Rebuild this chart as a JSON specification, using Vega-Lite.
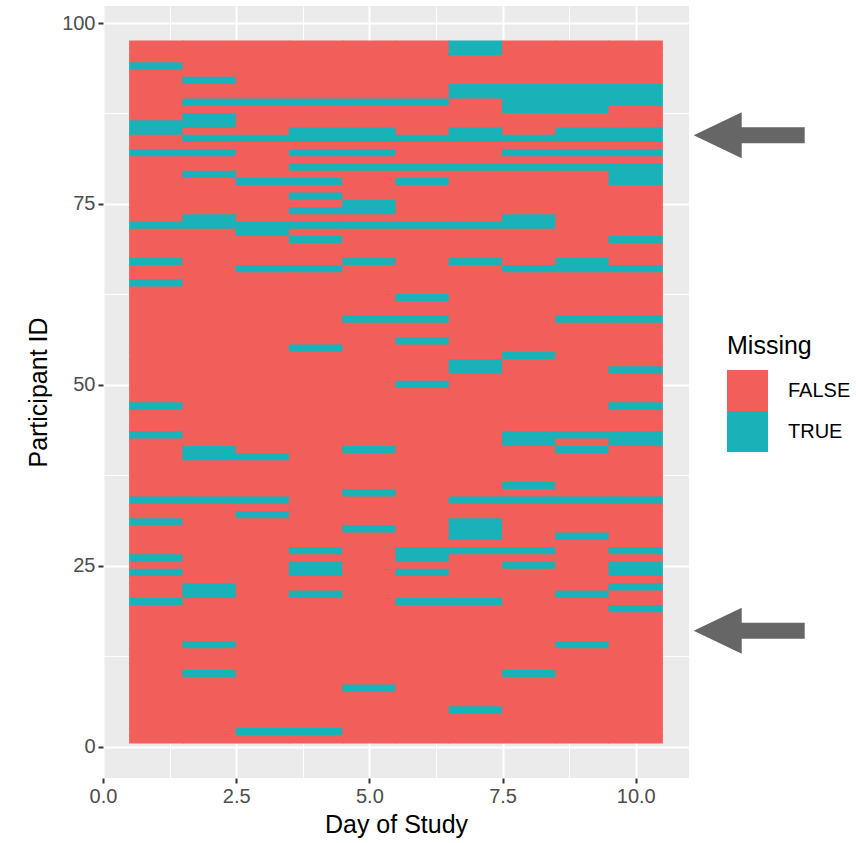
{
"$schema":"https://vega.github.io/schema/vega-lite/v6.json",
"autosize":{"type":"none"},
"padding":{"left":103,"top":6,"right":167,"bottom":65},
"width":586,
"height":772,
"background":"white",
"config":{
 "font":"Liberation Sans",
 "view":{"fill":"#EBEBEB","stroke":null},
 "axis":{"domain":false,"gridColor":"white","tickColor":"#333333","tickSize":5,"tickWidth":2,"labelColor":"#4D4D4D","labelFontSize":20,"labelFont":"Liberation Sans","titleFont":"Liberation Sans","titleFontSize":25,"titleFontWeight":"normal","titleColor":"black","labelOverlap":false,"labelFlush":false,"labelBound":false}
},
"layer":[
{
 "data":{"values":[
{"id":97,"day":1,"missing":"FALSE"},{"id":97,"day":2,"missing":"FALSE"},{"id":97,"day":3,"missing":"FALSE"},{"id":97,"day":4,"missing":"FALSE"},{"id":97,"day":5,"missing":"FALSE"},{"id":97,"day":6,"missing":"FALSE"},{"id":97,"day":7,"missing":"TRUE"},{"id":97,"day":8,"missing":"FALSE"},{"id":97,"day":9,"missing":"FALSE"},{"id":97,"day":10,"missing":"FALSE"},
{"id":96,"day":1,"missing":"FALSE"},{"id":96,"day":2,"missing":"FALSE"},{"id":96,"day":3,"missing":"FALSE"},{"id":96,"day":4,"missing":"FALSE"},{"id":96,"day":5,"missing":"FALSE"},{"id":96,"day":6,"missing":"FALSE"},{"id":96,"day":7,"missing":"TRUE"},{"id":96,"day":8,"missing":"FALSE"},{"id":96,"day":9,"missing":"FALSE"},{"id":96,"day":10,"missing":"FALSE"},
{"id":95,"day":1,"missing":"FALSE"},{"id":95,"day":2,"missing":"FALSE"},{"id":95,"day":3,"missing":"FALSE"},{"id":95,"day":4,"missing":"FALSE"},{"id":95,"day":5,"missing":"FALSE"},{"id":95,"day":6,"missing":"FALSE"},{"id":95,"day":7,"missing":"FALSE"},{"id":95,"day":8,"missing":"FALSE"},{"id":95,"day":9,"missing":"FALSE"},{"id":95,"day":10,"missing":"FALSE"},
{"id":94,"day":1,"missing":"TRUE"},{"id":94,"day":2,"missing":"FALSE"},{"id":94,"day":3,"missing":"FALSE"},{"id":94,"day":4,"missing":"FALSE"},{"id":94,"day":5,"missing":"FALSE"},{"id":94,"day":6,"missing":"FALSE"},{"id":94,"day":7,"missing":"FALSE"},{"id":94,"day":8,"missing":"FALSE"},{"id":94,"day":9,"missing":"FALSE"},{"id":94,"day":10,"missing":"FALSE"},
{"id":93,"day":1,"missing":"FALSE"},{"id":93,"day":2,"missing":"FALSE"},{"id":93,"day":3,"missing":"FALSE"},{"id":93,"day":4,"missing":"FALSE"},{"id":93,"day":5,"missing":"FALSE"},{"id":93,"day":6,"missing":"FALSE"},{"id":93,"day":7,"missing":"FALSE"},{"id":93,"day":8,"missing":"FALSE"},{"id":93,"day":9,"missing":"FALSE"},{"id":93,"day":10,"missing":"FALSE"},
{"id":92,"day":1,"missing":"FALSE"},{"id":92,"day":2,"missing":"TRUE"},{"id":92,"day":3,"missing":"FALSE"},{"id":92,"day":4,"missing":"FALSE"},{"id":92,"day":5,"missing":"FALSE"},{"id":92,"day":6,"missing":"FALSE"},{"id":92,"day":7,"missing":"FALSE"},{"id":92,"day":8,"missing":"FALSE"},{"id":92,"day":9,"missing":"FALSE"},{"id":92,"day":10,"missing":"FALSE"},
{"id":91,"day":1,"missing":"FALSE"},{"id":91,"day":2,"missing":"FALSE"},{"id":91,"day":3,"missing":"FALSE"},{"id":91,"day":4,"missing":"FALSE"},{"id":91,"day":5,"missing":"FALSE"},{"id":91,"day":6,"missing":"FALSE"},{"id":91,"day":7,"missing":"TRUE"},{"id":91,"day":8,"missing":"TRUE"},{"id":91,"day":9,"missing":"TRUE"},{"id":91,"day":10,"missing":"TRUE"},
{"id":90,"day":1,"missing":"FALSE"},{"id":90,"day":2,"missing":"FALSE"},{"id":90,"day":3,"missing":"FALSE"},{"id":90,"day":4,"missing":"FALSE"},{"id":90,"day":5,"missing":"FALSE"},{"id":90,"day":6,"missing":"FALSE"},{"id":90,"day":7,"missing":"TRUE"},{"id":90,"day":8,"missing":"TRUE"},{"id":90,"day":9,"missing":"TRUE"},{"id":90,"day":10,"missing":"TRUE"},
{"id":89,"day":1,"missing":"FALSE"},{"id":89,"day":2,"missing":"TRUE"},{"id":89,"day":3,"missing":"TRUE"},{"id":89,"day":4,"missing":"TRUE"},{"id":89,"day":5,"missing":"TRUE"},{"id":89,"day":6,"missing":"TRUE"},{"id":89,"day":7,"missing":"FALSE"},{"id":89,"day":8,"missing":"TRUE"},{"id":89,"day":9,"missing":"TRUE"},{"id":89,"day":10,"missing":"TRUE"},
{"id":88,"day":1,"missing":"FALSE"},{"id":88,"day":2,"missing":"FALSE"},{"id":88,"day":3,"missing":"FALSE"},{"id":88,"day":4,"missing":"FALSE"},{"id":88,"day":5,"missing":"FALSE"},{"id":88,"day":6,"missing":"FALSE"},{"id":88,"day":7,"missing":"FALSE"},{"id":88,"day":8,"missing":"TRUE"},{"id":88,"day":9,"missing":"TRUE"},{"id":88,"day":10,"missing":"FALSE"},
{"id":87,"day":1,"missing":"FALSE"},{"id":87,"day":2,"missing":"TRUE"},{"id":87,"day":3,"missing":"FALSE"},{"id":87,"day":4,"missing":"FALSE"},{"id":87,"day":5,"missing":"FALSE"},{"id":87,"day":6,"missing":"FALSE"},{"id":87,"day":7,"missing":"FALSE"},{"id":87,"day":8,"missing":"FALSE"},{"id":87,"day":9,"missing":"FALSE"},{"id":87,"day":10,"missing":"FALSE"},
{"id":86,"day":1,"missing":"TRUE"},{"id":86,"day":2,"missing":"TRUE"},{"id":86,"day":3,"missing":"FALSE"},{"id":86,"day":4,"missing":"FALSE"},{"id":86,"day":5,"missing":"FALSE"},{"id":86,"day":6,"missing":"FALSE"},{"id":86,"day":7,"missing":"FALSE"},{"id":86,"day":8,"missing":"FALSE"},{"id":86,"day":9,"missing":"FALSE"},{"id":86,"day":10,"missing":"FALSE"},
{"id":85,"day":1,"missing":"TRUE"},{"id":85,"day":2,"missing":"FALSE"},{"id":85,"day":3,"missing":"FALSE"},{"id":85,"day":4,"missing":"TRUE"},{"id":85,"day":5,"missing":"TRUE"},{"id":85,"day":6,"missing":"FALSE"},{"id":85,"day":7,"missing":"TRUE"},{"id":85,"day":8,"missing":"FALSE"},{"id":85,"day":9,"missing":"TRUE"},{"id":85,"day":10,"missing":"TRUE"},
{"id":84,"day":1,"missing":"FALSE"},{"id":84,"day":2,"missing":"TRUE"},{"id":84,"day":3,"missing":"TRUE"},{"id":84,"day":4,"missing":"TRUE"},{"id":84,"day":5,"missing":"TRUE"},{"id":84,"day":6,"missing":"TRUE"},{"id":84,"day":7,"missing":"TRUE"},{"id":84,"day":8,"missing":"TRUE"},{"id":84,"day":9,"missing":"TRUE"},{"id":84,"day":10,"missing":"TRUE"},
{"id":83,"day":1,"missing":"FALSE"},{"id":83,"day":2,"missing":"FALSE"},{"id":83,"day":3,"missing":"FALSE"},{"id":83,"day":4,"missing":"FALSE"},{"id":83,"day":5,"missing":"FALSE"},{"id":83,"day":6,"missing":"FALSE"},{"id":83,"day":7,"missing":"FALSE"},{"id":83,"day":8,"missing":"FALSE"},{"id":83,"day":9,"missing":"FALSE"},{"id":83,"day":10,"missing":"FALSE"},
{"id":82,"day":1,"missing":"TRUE"},{"id":82,"day":2,"missing":"TRUE"},{"id":82,"day":3,"missing":"FALSE"},{"id":82,"day":4,"missing":"TRUE"},{"id":82,"day":5,"missing":"TRUE"},{"id":82,"day":6,"missing":"FALSE"},{"id":82,"day":7,"missing":"FALSE"},{"id":82,"day":8,"missing":"TRUE"},{"id":82,"day":9,"missing":"TRUE"},{"id":82,"day":10,"missing":"TRUE"},
{"id":81,"day":1,"missing":"FALSE"},{"id":81,"day":2,"missing":"FALSE"},{"id":81,"day":3,"missing":"FALSE"},{"id":81,"day":4,"missing":"FALSE"},{"id":81,"day":5,"missing":"FALSE"},{"id":81,"day":6,"missing":"FALSE"},{"id":81,"day":7,"missing":"FALSE"},{"id":81,"day":8,"missing":"FALSE"},{"id":81,"day":9,"missing":"FALSE"},{"id":81,"day":10,"missing":"FALSE"},
{"id":80,"day":1,"missing":"FALSE"},{"id":80,"day":2,"missing":"FALSE"},{"id":80,"day":3,"missing":"FALSE"},{"id":80,"day":4,"missing":"TRUE"},{"id":80,"day":5,"missing":"TRUE"},{"id":80,"day":6,"missing":"TRUE"},{"id":80,"day":7,"missing":"TRUE"},{"id":80,"day":8,"missing":"TRUE"},{"id":80,"day":9,"missing":"TRUE"},{"id":80,"day":10,"missing":"TRUE"},
{"id":79,"day":1,"missing":"FALSE"},{"id":79,"day":2,"missing":"TRUE"},{"id":79,"day":3,"missing":"FALSE"},{"id":79,"day":4,"missing":"FALSE"},{"id":79,"day":5,"missing":"FALSE"},{"id":79,"day":6,"missing":"FALSE"},{"id":79,"day":7,"missing":"FALSE"},{"id":79,"day":8,"missing":"FALSE"},{"id":79,"day":9,"missing":"FALSE"},{"id":79,"day":10,"missing":"TRUE"},
{"id":78,"day":1,"missing":"FALSE"},{"id":78,"day":2,"missing":"FALSE"},{"id":78,"day":3,"missing":"TRUE"},{"id":78,"day":4,"missing":"TRUE"},{"id":78,"day":5,"missing":"FALSE"},{"id":78,"day":6,"missing":"TRUE"},{"id":78,"day":7,"missing":"FALSE"},{"id":78,"day":8,"missing":"FALSE"},{"id":78,"day":9,"missing":"FALSE"},{"id":78,"day":10,"missing":"TRUE"},
{"id":77,"day":1,"missing":"FALSE"},{"id":77,"day":2,"missing":"FALSE"},{"id":77,"day":3,"missing":"FALSE"},{"id":77,"day":4,"missing":"FALSE"},{"id":77,"day":5,"missing":"FALSE"},{"id":77,"day":6,"missing":"FALSE"},{"id":77,"day":7,"missing":"FALSE"},{"id":77,"day":8,"missing":"FALSE"},{"id":77,"day":9,"missing":"FALSE"},{"id":77,"day":10,"missing":"FALSE"},
{"id":76,"day":1,"missing":"FALSE"},{"id":76,"day":2,"missing":"FALSE"},{"id":76,"day":3,"missing":"FALSE"},{"id":76,"day":4,"missing":"TRUE"},{"id":76,"day":5,"missing":"FALSE"},{"id":76,"day":6,"missing":"FALSE"},{"id":76,"day":7,"missing":"FALSE"},{"id":76,"day":8,"missing":"FALSE"},{"id":76,"day":9,"missing":"FALSE"},{"id":76,"day":10,"missing":"FALSE"},
{"id":75,"day":1,"missing":"FALSE"},{"id":75,"day":2,"missing":"FALSE"},{"id":75,"day":3,"missing":"FALSE"},{"id":75,"day":4,"missing":"FALSE"},{"id":75,"day":5,"missing":"TRUE"},{"id":75,"day":6,"missing":"FALSE"},{"id":75,"day":7,"missing":"FALSE"},{"id":75,"day":8,"missing":"FALSE"},{"id":75,"day":9,"missing":"FALSE"},{"id":75,"day":10,"missing":"FALSE"},
{"id":74,"day":1,"missing":"FALSE"},{"id":74,"day":2,"missing":"FALSE"},{"id":74,"day":3,"missing":"FALSE"},{"id":74,"day":4,"missing":"TRUE"},{"id":74,"day":5,"missing":"TRUE"},{"id":74,"day":6,"missing":"FALSE"},{"id":74,"day":7,"missing":"FALSE"},{"id":74,"day":8,"missing":"FALSE"},{"id":74,"day":9,"missing":"FALSE"},{"id":74,"day":10,"missing":"FALSE"},
{"id":73,"day":1,"missing":"FALSE"},{"id":73,"day":2,"missing":"TRUE"},{"id":73,"day":3,"missing":"FALSE"},{"id":73,"day":4,"missing":"FALSE"},{"id":73,"day":5,"missing":"FALSE"},{"id":73,"day":6,"missing":"FALSE"},{"id":73,"day":7,"missing":"FALSE"},{"id":73,"day":8,"missing":"TRUE"},{"id":73,"day":9,"missing":"FALSE"},{"id":73,"day":10,"missing":"FALSE"},
{"id":72,"day":1,"missing":"TRUE"},{"id":72,"day":2,"missing":"TRUE"},{"id":72,"day":3,"missing":"TRUE"},{"id":72,"day":4,"missing":"TRUE"},{"id":72,"day":5,"missing":"TRUE"},{"id":72,"day":6,"missing":"TRUE"},{"id":72,"day":7,"missing":"TRUE"},{"id":72,"day":8,"missing":"TRUE"},{"id":72,"day":9,"missing":"FALSE"},{"id":72,"day":10,"missing":"FALSE"},
{"id":71,"day":1,"missing":"FALSE"},{"id":71,"day":2,"missing":"FALSE"},{"id":71,"day":3,"missing":"TRUE"},{"id":71,"day":4,"missing":"FALSE"},{"id":71,"day":5,"missing":"FALSE"},{"id":71,"day":6,"missing":"FALSE"},{"id":71,"day":7,"missing":"FALSE"},{"id":71,"day":8,"missing":"FALSE"},{"id":71,"day":9,"missing":"FALSE"},{"id":71,"day":10,"missing":"FALSE"},
{"id":70,"day":1,"missing":"FALSE"},{"id":70,"day":2,"missing":"FALSE"},{"id":70,"day":3,"missing":"FALSE"},{"id":70,"day":4,"missing":"TRUE"},{"id":70,"day":5,"missing":"FALSE"},{"id":70,"day":6,"missing":"FALSE"},{"id":70,"day":7,"missing":"FALSE"},{"id":70,"day":8,"missing":"FALSE"},{"id":70,"day":9,"missing":"FALSE"},{"id":70,"day":10,"missing":"TRUE"},
{"id":69,"day":1,"missing":"FALSE"},{"id":69,"day":2,"missing":"FALSE"},{"id":69,"day":3,"missing":"FALSE"},{"id":69,"day":4,"missing":"FALSE"},{"id":69,"day":5,"missing":"FALSE"},{"id":69,"day":6,"missing":"FALSE"},{"id":69,"day":7,"missing":"FALSE"},{"id":69,"day":8,"missing":"FALSE"},{"id":69,"day":9,"missing":"FALSE"},{"id":69,"day":10,"missing":"FALSE"},
{"id":68,"day":1,"missing":"FALSE"},{"id":68,"day":2,"missing":"FALSE"},{"id":68,"day":3,"missing":"FALSE"},{"id":68,"day":4,"missing":"FALSE"},{"id":68,"day":5,"missing":"FALSE"},{"id":68,"day":6,"missing":"FALSE"},{"id":68,"day":7,"missing":"FALSE"},{"id":68,"day":8,"missing":"FALSE"},{"id":68,"day":9,"missing":"FALSE"},{"id":68,"day":10,"missing":"FALSE"},
{"id":67,"day":1,"missing":"TRUE"},{"id":67,"day":2,"missing":"FALSE"},{"id":67,"day":3,"missing":"FALSE"},{"id":67,"day":4,"missing":"FALSE"},{"id":67,"day":5,"missing":"TRUE"},{"id":67,"day":6,"missing":"FALSE"},{"id":67,"day":7,"missing":"TRUE"},{"id":67,"day":8,"missing":"FALSE"},{"id":67,"day":9,"missing":"TRUE"},{"id":67,"day":10,"missing":"FALSE"},
{"id":66,"day":1,"missing":"FALSE"},{"id":66,"day":2,"missing":"FALSE"},{"id":66,"day":3,"missing":"TRUE"},{"id":66,"day":4,"missing":"TRUE"},{"id":66,"day":5,"missing":"FALSE"},{"id":66,"day":6,"missing":"FALSE"},{"id":66,"day":7,"missing":"FALSE"},{"id":66,"day":8,"missing":"TRUE"},{"id":66,"day":9,"missing":"TRUE"},{"id":66,"day":10,"missing":"TRUE"},
{"id":65,"day":1,"missing":"FALSE"},{"id":65,"day":2,"missing":"FALSE"},{"id":65,"day":3,"missing":"FALSE"},{"id":65,"day":4,"missing":"FALSE"},{"id":65,"day":5,"missing":"FALSE"},{"id":65,"day":6,"missing":"FALSE"},{"id":65,"day":7,"missing":"FALSE"},{"id":65,"day":8,"missing":"FALSE"},{"id":65,"day":9,"missing":"FALSE"},{"id":65,"day":10,"missing":"FALSE"},
{"id":64,"day":1,"missing":"TRUE"},{"id":64,"day":2,"missing":"FALSE"},{"id":64,"day":3,"missing":"FALSE"},{"id":64,"day":4,"missing":"FALSE"},{"id":64,"day":5,"missing":"FALSE"},{"id":64,"day":6,"missing":"FALSE"},{"id":64,"day":7,"missing":"FALSE"},{"id":64,"day":8,"missing":"FALSE"},{"id":64,"day":9,"missing":"FALSE"},{"id":64,"day":10,"missing":"FALSE"},
{"id":63,"day":1,"missing":"FALSE"},{"id":63,"day":2,"missing":"FALSE"},{"id":63,"day":3,"missing":"FALSE"},{"id":63,"day":4,"missing":"FALSE"},{"id":63,"day":5,"missing":"FALSE"},{"id":63,"day":6,"missing":"FALSE"},{"id":63,"day":7,"missing":"FALSE"},{"id":63,"day":8,"missing":"FALSE"},{"id":63,"day":9,"missing":"FALSE"},{"id":63,"day":10,"missing":"FALSE"},
{"id":62,"day":1,"missing":"FALSE"},{"id":62,"day":2,"missing":"FALSE"},{"id":62,"day":3,"missing":"FALSE"},{"id":62,"day":4,"missing":"FALSE"},{"id":62,"day":5,"missing":"FALSE"},{"id":62,"day":6,"missing":"TRUE"},{"id":62,"day":7,"missing":"FALSE"},{"id":62,"day":8,"missing":"FALSE"},{"id":62,"day":9,"missing":"FALSE"},{"id":62,"day":10,"missing":"FALSE"},
{"id":61,"day":1,"missing":"FALSE"},{"id":61,"day":2,"missing":"FALSE"},{"id":61,"day":3,"missing":"FALSE"},{"id":61,"day":4,"missing":"FALSE"},{"id":61,"day":5,"missing":"FALSE"},{"id":61,"day":6,"missing":"FALSE"},{"id":61,"day":7,"missing":"FALSE"},{"id":61,"day":8,"missing":"FALSE"},{"id":61,"day":9,"missing":"FALSE"},{"id":61,"day":10,"missing":"FALSE"},
{"id":60,"day":1,"missing":"FALSE"},{"id":60,"day":2,"missing":"FALSE"},{"id":60,"day":3,"missing":"FALSE"},{"id":60,"day":4,"missing":"FALSE"},{"id":60,"day":5,"missing":"FALSE"},{"id":60,"day":6,"missing":"FALSE"},{"id":60,"day":7,"missing":"FALSE"},{"id":60,"day":8,"missing":"FALSE"},{"id":60,"day":9,"missing":"FALSE"},{"id":60,"day":10,"missing":"FALSE"},
{"id":59,"day":1,"missing":"FALSE"},{"id":59,"day":2,"missing":"FALSE"},{"id":59,"day":3,"missing":"FALSE"},{"id":59,"day":4,"missing":"FALSE"},{"id":59,"day":5,"missing":"TRUE"},{"id":59,"day":6,"missing":"TRUE"},{"id":59,"day":7,"missing":"FALSE"},{"id":59,"day":8,"missing":"FALSE"},{"id":59,"day":9,"missing":"TRUE"},{"id":59,"day":10,"missing":"TRUE"},
{"id":58,"day":1,"missing":"FALSE"},{"id":58,"day":2,"missing":"FALSE"},{"id":58,"day":3,"missing":"FALSE"},{"id":58,"day":4,"missing":"FALSE"},{"id":58,"day":5,"missing":"FALSE"},{"id":58,"day":6,"missing":"FALSE"},{"id":58,"day":7,"missing":"FALSE"},{"id":58,"day":8,"missing":"FALSE"},{"id":58,"day":9,"missing":"FALSE"},{"id":58,"day":10,"missing":"FALSE"},
{"id":57,"day":1,"missing":"FALSE"},{"id":57,"day":2,"missing":"FALSE"},{"id":57,"day":3,"missing":"FALSE"},{"id":57,"day":4,"missing":"FALSE"},{"id":57,"day":5,"missing":"FALSE"},{"id":57,"day":6,"missing":"FALSE"},{"id":57,"day":7,"missing":"FALSE"},{"id":57,"day":8,"missing":"FALSE"},{"id":57,"day":9,"missing":"FALSE"},{"id":57,"day":10,"missing":"FALSE"},
{"id":56,"day":1,"missing":"FALSE"},{"id":56,"day":2,"missing":"FALSE"},{"id":56,"day":3,"missing":"FALSE"},{"id":56,"day":4,"missing":"FALSE"},{"id":56,"day":5,"missing":"FALSE"},{"id":56,"day":6,"missing":"TRUE"},{"id":56,"day":7,"missing":"FALSE"},{"id":56,"day":8,"missing":"FALSE"},{"id":56,"day":9,"missing":"FALSE"},{"id":56,"day":10,"missing":"FALSE"},
{"id":55,"day":1,"missing":"FALSE"},{"id":55,"day":2,"missing":"FALSE"},{"id":55,"day":3,"missing":"FALSE"},{"id":55,"day":4,"missing":"TRUE"},{"id":55,"day":5,"missing":"FALSE"},{"id":55,"day":6,"missing":"FALSE"},{"id":55,"day":7,"missing":"FALSE"},{"id":55,"day":8,"missing":"FALSE"},{"id":55,"day":9,"missing":"FALSE"},{"id":55,"day":10,"missing":"FALSE"},
{"id":54,"day":1,"missing":"FALSE"},{"id":54,"day":2,"missing":"FALSE"},{"id":54,"day":3,"missing":"FALSE"},{"id":54,"day":4,"missing":"FALSE"},{"id":54,"day":5,"missing":"FALSE"},{"id":54,"day":6,"missing":"FALSE"},{"id":54,"day":7,"missing":"FALSE"},{"id":54,"day":8,"missing":"TRUE"},{"id":54,"day":9,"missing":"FALSE"},{"id":54,"day":10,"missing":"FALSE"},
{"id":53,"day":1,"missing":"FALSE"},{"id":53,"day":2,"missing":"FALSE"},{"id":53,"day":3,"missing":"FALSE"},{"id":53,"day":4,"missing":"FALSE"},{"id":53,"day":5,"missing":"FALSE"},{"id":53,"day":6,"missing":"FALSE"},{"id":53,"day":7,"missing":"TRUE"},{"id":53,"day":8,"missing":"FALSE"},{"id":53,"day":9,"missing":"FALSE"},{"id":53,"day":10,"missing":"FALSE"},
{"id":52,"day":1,"missing":"FALSE"},{"id":52,"day":2,"missing":"FALSE"},{"id":52,"day":3,"missing":"FALSE"},{"id":52,"day":4,"missing":"FALSE"},{"id":52,"day":5,"missing":"FALSE"},{"id":52,"day":6,"missing":"FALSE"},{"id":52,"day":7,"missing":"TRUE"},{"id":52,"day":8,"missing":"FALSE"},{"id":52,"day":9,"missing":"FALSE"},{"id":52,"day":10,"missing":"TRUE"},
{"id":51,"day":1,"missing":"FALSE"},{"id":51,"day":2,"missing":"FALSE"},{"id":51,"day":3,"missing":"FALSE"},{"id":51,"day":4,"missing":"FALSE"},{"id":51,"day":5,"missing":"FALSE"},{"id":51,"day":6,"missing":"FALSE"},{"id":51,"day":7,"missing":"FALSE"},{"id":51,"day":8,"missing":"FALSE"},{"id":51,"day":9,"missing":"FALSE"},{"id":51,"day":10,"missing":"FALSE"},
{"id":50,"day":1,"missing":"FALSE"},{"id":50,"day":2,"missing":"FALSE"},{"id":50,"day":3,"missing":"FALSE"},{"id":50,"day":4,"missing":"FALSE"},{"id":50,"day":5,"missing":"FALSE"},{"id":50,"day":6,"missing":"TRUE"},{"id":50,"day":7,"missing":"FALSE"},{"id":50,"day":8,"missing":"FALSE"},{"id":50,"day":9,"missing":"FALSE"},{"id":50,"day":10,"missing":"FALSE"},
{"id":49,"day":1,"missing":"FALSE"},{"id":49,"day":2,"missing":"FALSE"},{"id":49,"day":3,"missing":"FALSE"},{"id":49,"day":4,"missing":"FALSE"},{"id":49,"day":5,"missing":"FALSE"},{"id":49,"day":6,"missing":"FALSE"},{"id":49,"day":7,"missing":"FALSE"},{"id":49,"day":8,"missing":"FALSE"},{"id":49,"day":9,"missing":"FALSE"},{"id":49,"day":10,"missing":"FALSE"},
{"id":48,"day":1,"missing":"FALSE"},{"id":48,"day":2,"missing":"FALSE"},{"id":48,"day":3,"missing":"FALSE"},{"id":48,"day":4,"missing":"FALSE"},{"id":48,"day":5,"missing":"FALSE"},{"id":48,"day":6,"missing":"FALSE"},{"id":48,"day":7,"missing":"FALSE"},{"id":48,"day":8,"missing":"FALSE"},{"id":48,"day":9,"missing":"FALSE"},{"id":48,"day":10,"missing":"FALSE"},
{"id":47,"day":1,"missing":"TRUE"},{"id":47,"day":2,"missing":"FALSE"},{"id":47,"day":3,"missing":"FALSE"},{"id":47,"day":4,"missing":"FALSE"},{"id":47,"day":5,"missing":"FALSE"},{"id":47,"day":6,"missing":"FALSE"},{"id":47,"day":7,"missing":"FALSE"},{"id":47,"day":8,"missing":"FALSE"},{"id":47,"day":9,"missing":"FALSE"},{"id":47,"day":10,"missing":"TRUE"},
{"id":46,"day":1,"missing":"FALSE"},{"id":46,"day":2,"missing":"FALSE"},{"id":46,"day":3,"missing":"FALSE"},{"id":46,"day":4,"missing":"FALSE"},{"id":46,"day":5,"missing":"FALSE"},{"id":46,"day":6,"missing":"FALSE"},{"id":46,"day":7,"missing":"FALSE"},{"id":46,"day":8,"missing":"FALSE"},{"id":46,"day":9,"missing":"FALSE"},{"id":46,"day":10,"missing":"FALSE"},
{"id":45,"day":1,"missing":"FALSE"},{"id":45,"day":2,"missing":"FALSE"},{"id":45,"day":3,"missing":"FALSE"},{"id":45,"day":4,"missing":"FALSE"},{"id":45,"day":5,"missing":"FALSE"},{"id":45,"day":6,"missing":"FALSE"},{"id":45,"day":7,"missing":"FALSE"},{"id":45,"day":8,"missing":"FALSE"},{"id":45,"day":9,"missing":"FALSE"},{"id":45,"day":10,"missing":"FALSE"},
{"id":44,"day":1,"missing":"FALSE"},{"id":44,"day":2,"missing":"FALSE"},{"id":44,"day":3,"missing":"FALSE"},{"id":44,"day":4,"missing":"FALSE"},{"id":44,"day":5,"missing":"FALSE"},{"id":44,"day":6,"missing":"FALSE"},{"id":44,"day":7,"missing":"FALSE"},{"id":44,"day":8,"missing":"FALSE"},{"id":44,"day":9,"missing":"FALSE"},{"id":44,"day":10,"missing":"FALSE"},
{"id":43,"day":1,"missing":"TRUE"},{"id":43,"day":2,"missing":"FALSE"},{"id":43,"day":3,"missing":"FALSE"},{"id":43,"day":4,"missing":"FALSE"},{"id":43,"day":5,"missing":"FALSE"},{"id":43,"day":6,"missing":"FALSE"},{"id":43,"day":7,"missing":"FALSE"},{"id":43,"day":8,"missing":"TRUE"},{"id":43,"day":9,"missing":"TRUE"},{"id":43,"day":10,"missing":"TRUE"},
{"id":42,"day":1,"missing":"FALSE"},{"id":42,"day":2,"missing":"FALSE"},{"id":42,"day":3,"missing":"FALSE"},{"id":42,"day":4,"missing":"FALSE"},{"id":42,"day":5,"missing":"FALSE"},{"id":42,"day":6,"missing":"FALSE"},{"id":42,"day":7,"missing":"FALSE"},{"id":42,"day":8,"missing":"TRUE"},{"id":42,"day":9,"missing":"FALSE"},{"id":42,"day":10,"missing":"TRUE"},
{"id":41,"day":1,"missing":"FALSE"},{"id":41,"day":2,"missing":"TRUE"},{"id":41,"day":3,"missing":"FALSE"},{"id":41,"day":4,"missing":"FALSE"},{"id":41,"day":5,"missing":"TRUE"},{"id":41,"day":6,"missing":"FALSE"},{"id":41,"day":7,"missing":"FALSE"},{"id":41,"day":8,"missing":"FALSE"},{"id":41,"day":9,"missing":"TRUE"},{"id":41,"day":10,"missing":"FALSE"},
{"id":40,"day":1,"missing":"FALSE"},{"id":40,"day":2,"missing":"TRUE"},{"id":40,"day":3,"missing":"TRUE"},{"id":40,"day":4,"missing":"FALSE"},{"id":40,"day":5,"missing":"FALSE"},{"id":40,"day":6,"missing":"FALSE"},{"id":40,"day":7,"missing":"FALSE"},{"id":40,"day":8,"missing":"FALSE"},{"id":40,"day":9,"missing":"FALSE"},{"id":40,"day":10,"missing":"FALSE"},
{"id":39,"day":1,"missing":"FALSE"},{"id":39,"day":2,"missing":"FALSE"},{"id":39,"day":3,"missing":"FALSE"},{"id":39,"day":4,"missing":"FALSE"},{"id":39,"day":5,"missing":"FALSE"},{"id":39,"day":6,"missing":"FALSE"},{"id":39,"day":7,"missing":"FALSE"},{"id":39,"day":8,"missing":"FALSE"},{"id":39,"day":9,"missing":"FALSE"},{"id":39,"day":10,"missing":"FALSE"},
{"id":38,"day":1,"missing":"FALSE"},{"id":38,"day":2,"missing":"FALSE"},{"id":38,"day":3,"missing":"FALSE"},{"id":38,"day":4,"missing":"FALSE"},{"id":38,"day":5,"missing":"FALSE"},{"id":38,"day":6,"missing":"FALSE"},{"id":38,"day":7,"missing":"FALSE"},{"id":38,"day":8,"missing":"FALSE"},{"id":38,"day":9,"missing":"FALSE"},{"id":38,"day":10,"missing":"FALSE"},
{"id":37,"day":1,"missing":"FALSE"},{"id":37,"day":2,"missing":"FALSE"},{"id":37,"day":3,"missing":"FALSE"},{"id":37,"day":4,"missing":"FALSE"},{"id":37,"day":5,"missing":"FALSE"},{"id":37,"day":6,"missing":"FALSE"},{"id":37,"day":7,"missing":"FALSE"},{"id":37,"day":8,"missing":"FALSE"},{"id":37,"day":9,"missing":"FALSE"},{"id":37,"day":10,"missing":"FALSE"},
{"id":36,"day":1,"missing":"FALSE"},{"id":36,"day":2,"missing":"FALSE"},{"id":36,"day":3,"missing":"FALSE"},{"id":36,"day":4,"missing":"FALSE"},{"id":36,"day":5,"missing":"FALSE"},{"id":36,"day":6,"missing":"FALSE"},{"id":36,"day":7,"missing":"FALSE"},{"id":36,"day":8,"missing":"TRUE"},{"id":36,"day":9,"missing":"FALSE"},{"id":36,"day":10,"missing":"FALSE"},
{"id":35,"day":1,"missing":"FALSE"},{"id":35,"day":2,"missing":"FALSE"},{"id":35,"day":3,"missing":"FALSE"},{"id":35,"day":4,"missing":"FALSE"},{"id":35,"day":5,"missing":"TRUE"},{"id":35,"day":6,"missing":"FALSE"},{"id":35,"day":7,"missing":"FALSE"},{"id":35,"day":8,"missing":"FALSE"},{"id":35,"day":9,"missing":"FALSE"},{"id":35,"day":10,"missing":"FALSE"},
{"id":34,"day":1,"missing":"TRUE"},{"id":34,"day":2,"missing":"TRUE"},{"id":34,"day":3,"missing":"TRUE"},{"id":34,"day":4,"missing":"FALSE"},{"id":34,"day":5,"missing":"FALSE"},{"id":34,"day":6,"missing":"FALSE"},{"id":34,"day":7,"missing":"TRUE"},{"id":34,"day":8,"missing":"TRUE"},{"id":34,"day":9,"missing":"TRUE"},{"id":34,"day":10,"missing":"TRUE"},
{"id":33,"day":1,"missing":"FALSE"},{"id":33,"day":2,"missing":"FALSE"},{"id":33,"day":3,"missing":"FALSE"},{"id":33,"day":4,"missing":"FALSE"},{"id":33,"day":5,"missing":"FALSE"},{"id":33,"day":6,"missing":"FALSE"},{"id":33,"day":7,"missing":"FALSE"},{"id":33,"day":8,"missing":"FALSE"},{"id":33,"day":9,"missing":"FALSE"},{"id":33,"day":10,"missing":"FALSE"},
{"id":32,"day":1,"missing":"FALSE"},{"id":32,"day":2,"missing":"FALSE"},{"id":32,"day":3,"missing":"TRUE"},{"id":32,"day":4,"missing":"FALSE"},{"id":32,"day":5,"missing":"FALSE"},{"id":32,"day":6,"missing":"FALSE"},{"id":32,"day":7,"missing":"FALSE"},{"id":32,"day":8,"missing":"FALSE"},{"id":32,"day":9,"missing":"FALSE"},{"id":32,"day":10,"missing":"FALSE"},
{"id":31,"day":1,"missing":"TRUE"},{"id":31,"day":2,"missing":"FALSE"},{"id":31,"day":3,"missing":"FALSE"},{"id":31,"day":4,"missing":"FALSE"},{"id":31,"day":5,"missing":"FALSE"},{"id":31,"day":6,"missing":"FALSE"},{"id":31,"day":7,"missing":"TRUE"},{"id":31,"day":8,"missing":"FALSE"},{"id":31,"day":9,"missing":"FALSE"},{"id":31,"day":10,"missing":"FALSE"},
{"id":30,"day":1,"missing":"FALSE"},{"id":30,"day":2,"missing":"FALSE"},{"id":30,"day":3,"missing":"FALSE"},{"id":30,"day":4,"missing":"FALSE"},{"id":30,"day":5,"missing":"TRUE"},{"id":30,"day":6,"missing":"FALSE"},{"id":30,"day":7,"missing":"TRUE"},{"id":30,"day":8,"missing":"FALSE"},{"id":30,"day":9,"missing":"FALSE"},{"id":30,"day":10,"missing":"FALSE"},
{"id":29,"day":1,"missing":"FALSE"},{"id":29,"day":2,"missing":"FALSE"},{"id":29,"day":3,"missing":"FALSE"},{"id":29,"day":4,"missing":"FALSE"},{"id":29,"day":5,"missing":"FALSE"},{"id":29,"day":6,"missing":"FALSE"},{"id":29,"day":7,"missing":"TRUE"},{"id":29,"day":8,"missing":"FALSE"},{"id":29,"day":9,"missing":"TRUE"},{"id":29,"day":10,"missing":"FALSE"},
{"id":28,"day":1,"missing":"FALSE"},{"id":28,"day":2,"missing":"FALSE"},{"id":28,"day":3,"missing":"FALSE"},{"id":28,"day":4,"missing":"FALSE"},{"id":28,"day":5,"missing":"FALSE"},{"id":28,"day":6,"missing":"FALSE"},{"id":28,"day":7,"missing":"FALSE"},{"id":28,"day":8,"missing":"FALSE"},{"id":28,"day":9,"missing":"FALSE"},{"id":28,"day":10,"missing":"FALSE"},
{"id":27,"day":1,"missing":"FALSE"},{"id":27,"day":2,"missing":"FALSE"},{"id":27,"day":3,"missing":"FALSE"},{"id":27,"day":4,"missing":"TRUE"},{"id":27,"day":5,"missing":"FALSE"},{"id":27,"day":6,"missing":"TRUE"},{"id":27,"day":7,"missing":"TRUE"},{"id":27,"day":8,"missing":"TRUE"},{"id":27,"day":9,"missing":"FALSE"},{"id":27,"day":10,"missing":"TRUE"},
{"id":26,"day":1,"missing":"TRUE"},{"id":26,"day":2,"missing":"FALSE"},{"id":26,"day":3,"missing":"FALSE"},{"id":26,"day":4,"missing":"FALSE"},{"id":26,"day":5,"missing":"FALSE"},{"id":26,"day":6,"missing":"TRUE"},{"id":26,"day":7,"missing":"FALSE"},{"id":26,"day":8,"missing":"FALSE"},{"id":26,"day":9,"missing":"FALSE"},{"id":26,"day":10,"missing":"FALSE"},
{"id":25,"day":1,"missing":"FALSE"},{"id":25,"day":2,"missing":"FALSE"},{"id":25,"day":3,"missing":"FALSE"},{"id":25,"day":4,"missing":"TRUE"},{"id":25,"day":5,"missing":"FALSE"},{"id":25,"day":6,"missing":"FALSE"},{"id":25,"day":7,"missing":"FALSE"},{"id":25,"day":8,"missing":"TRUE"},{"id":25,"day":9,"missing":"FALSE"},{"id":25,"day":10,"missing":"TRUE"},
{"id":24,"day":1,"missing":"TRUE"},{"id":24,"day":2,"missing":"FALSE"},{"id":24,"day":3,"missing":"FALSE"},{"id":24,"day":4,"missing":"TRUE"},{"id":24,"day":5,"missing":"FALSE"},{"id":24,"day":6,"missing":"TRUE"},{"id":24,"day":7,"missing":"FALSE"},{"id":24,"day":8,"missing":"FALSE"},{"id":24,"day":9,"missing":"FALSE"},{"id":24,"day":10,"missing":"TRUE"},
{"id":23,"day":1,"missing":"FALSE"},{"id":23,"day":2,"missing":"FALSE"},{"id":23,"day":3,"missing":"FALSE"},{"id":23,"day":4,"missing":"FALSE"},{"id":23,"day":5,"missing":"FALSE"},{"id":23,"day":6,"missing":"FALSE"},{"id":23,"day":7,"missing":"FALSE"},{"id":23,"day":8,"missing":"FALSE"},{"id":23,"day":9,"missing":"FALSE"},{"id":23,"day":10,"missing":"FALSE"},
{"id":22,"day":1,"missing":"FALSE"},{"id":22,"day":2,"missing":"TRUE"},{"id":22,"day":3,"missing":"FALSE"},{"id":22,"day":4,"missing":"FALSE"},{"id":22,"day":5,"missing":"FALSE"},{"id":22,"day":6,"missing":"FALSE"},{"id":22,"day":7,"missing":"FALSE"},{"id":22,"day":8,"missing":"FALSE"},{"id":22,"day":9,"missing":"FALSE"},{"id":22,"day":10,"missing":"TRUE"},
{"id":21,"day":1,"missing":"FALSE"},{"id":21,"day":2,"missing":"TRUE"},{"id":21,"day":3,"missing":"FALSE"},{"id":21,"day":4,"missing":"TRUE"},{"id":21,"day":5,"missing":"FALSE"},{"id":21,"day":6,"missing":"FALSE"},{"id":21,"day":7,"missing":"FALSE"},{"id":21,"day":8,"missing":"FALSE"},{"id":21,"day":9,"missing":"TRUE"},{"id":21,"day":10,"missing":"FALSE"},
{"id":20,"day":1,"missing":"TRUE"},{"id":20,"day":2,"missing":"FALSE"},{"id":20,"day":3,"missing":"FALSE"},{"id":20,"day":4,"missing":"FALSE"},{"id":20,"day":5,"missing":"FALSE"},{"id":20,"day":6,"missing":"TRUE"},{"id":20,"day":7,"missing":"TRUE"},{"id":20,"day":8,"missing":"FALSE"},{"id":20,"day":9,"missing":"FALSE"},{"id":20,"day":10,"missing":"FALSE"},
{"id":19,"day":1,"missing":"FALSE"},{"id":19,"day":2,"missing":"FALSE"},{"id":19,"day":3,"missing":"FALSE"},{"id":19,"day":4,"missing":"FALSE"},{"id":19,"day":5,"missing":"FALSE"},{"id":19,"day":6,"missing":"FALSE"},{"id":19,"day":7,"missing":"FALSE"},{"id":19,"day":8,"missing":"FALSE"},{"id":19,"day":9,"missing":"FALSE"},{"id":19,"day":10,"missing":"TRUE"},
{"id":18,"day":1,"missing":"FALSE"},{"id":18,"day":2,"missing":"FALSE"},{"id":18,"day":3,"missing":"FALSE"},{"id":18,"day":4,"missing":"FALSE"},{"id":18,"day":5,"missing":"FALSE"},{"id":18,"day":6,"missing":"FALSE"},{"id":18,"day":7,"missing":"FALSE"},{"id":18,"day":8,"missing":"FALSE"},{"id":18,"day":9,"missing":"FALSE"},{"id":18,"day":10,"missing":"FALSE"},
{"id":17,"day":1,"missing":"FALSE"},{"id":17,"day":2,"missing":"FALSE"},{"id":17,"day":3,"missing":"FALSE"},{"id":17,"day":4,"missing":"FALSE"},{"id":17,"day":5,"missing":"FALSE"},{"id":17,"day":6,"missing":"FALSE"},{"id":17,"day":7,"missing":"FALSE"},{"id":17,"day":8,"missing":"FALSE"},{"id":17,"day":9,"missing":"FALSE"},{"id":17,"day":10,"missing":"FALSE"},
{"id":16,"day":1,"missing":"FALSE"},{"id":16,"day":2,"missing":"FALSE"},{"id":16,"day":3,"missing":"FALSE"},{"id":16,"day":4,"missing":"FALSE"},{"id":16,"day":5,"missing":"FALSE"},{"id":16,"day":6,"missing":"FALSE"},{"id":16,"day":7,"missing":"FALSE"},{"id":16,"day":8,"missing":"FALSE"},{"id":16,"day":9,"missing":"FALSE"},{"id":16,"day":10,"missing":"FALSE"},
{"id":15,"day":1,"missing":"FALSE"},{"id":15,"day":2,"missing":"FALSE"},{"id":15,"day":3,"missing":"FALSE"},{"id":15,"day":4,"missing":"FALSE"},{"id":15,"day":5,"missing":"FALSE"},{"id":15,"day":6,"missing":"FALSE"},{"id":15,"day":7,"missing":"FALSE"},{"id":15,"day":8,"missing":"FALSE"},{"id":15,"day":9,"missing":"FALSE"},{"id":15,"day":10,"missing":"FALSE"},
{"id":14,"day":1,"missing":"FALSE"},{"id":14,"day":2,"missing":"TRUE"},{"id":14,"day":3,"missing":"FALSE"},{"id":14,"day":4,"missing":"FALSE"},{"id":14,"day":5,"missing":"FALSE"},{"id":14,"day":6,"missing":"FALSE"},{"id":14,"day":7,"missing":"FALSE"},{"id":14,"day":8,"missing":"FALSE"},{"id":14,"day":9,"missing":"TRUE"},{"id":14,"day":10,"missing":"FALSE"},
{"id":13,"day":1,"missing":"FALSE"},{"id":13,"day":2,"missing":"FALSE"},{"id":13,"day":3,"missing":"FALSE"},{"id":13,"day":4,"missing":"FALSE"},{"id":13,"day":5,"missing":"FALSE"},{"id":13,"day":6,"missing":"FALSE"},{"id":13,"day":7,"missing":"FALSE"},{"id":13,"day":8,"missing":"FALSE"},{"id":13,"day":9,"missing":"FALSE"},{"id":13,"day":10,"missing":"FALSE"},
{"id":12,"day":1,"missing":"FALSE"},{"id":12,"day":2,"missing":"FALSE"},{"id":12,"day":3,"missing":"FALSE"},{"id":12,"day":4,"missing":"FALSE"},{"id":12,"day":5,"missing":"FALSE"},{"id":12,"day":6,"missing":"FALSE"},{"id":12,"day":7,"missing":"FALSE"},{"id":12,"day":8,"missing":"FALSE"},{"id":12,"day":9,"missing":"FALSE"},{"id":12,"day":10,"missing":"FALSE"},
{"id":11,"day":1,"missing":"FALSE"},{"id":11,"day":2,"missing":"FALSE"},{"id":11,"day":3,"missing":"FALSE"},{"id":11,"day":4,"missing":"FALSE"},{"id":11,"day":5,"missing":"FALSE"},{"id":11,"day":6,"missing":"FALSE"},{"id":11,"day":7,"missing":"FALSE"},{"id":11,"day":8,"missing":"FALSE"},{"id":11,"day":9,"missing":"FALSE"},{"id":11,"day":10,"missing":"FALSE"},
{"id":10,"day":1,"missing":"FALSE"},{"id":10,"day":2,"missing":"TRUE"},{"id":10,"day":3,"missing":"FALSE"},{"id":10,"day":4,"missing":"FALSE"},{"id":10,"day":5,"missing":"FALSE"},{"id":10,"day":6,"missing":"FALSE"},{"id":10,"day":7,"missing":"FALSE"},{"id":10,"day":8,"missing":"TRUE"},{"id":10,"day":9,"missing":"FALSE"},{"id":10,"day":10,"missing":"FALSE"},
{"id":9,"day":1,"missing":"FALSE"},{"id":9,"day":2,"missing":"FALSE"},{"id":9,"day":3,"missing":"FALSE"},{"id":9,"day":4,"missing":"FALSE"},{"id":9,"day":5,"missing":"FALSE"},{"id":9,"day":6,"missing":"FALSE"},{"id":9,"day":7,"missing":"FALSE"},{"id":9,"day":8,"missing":"FALSE"},{"id":9,"day":9,"missing":"FALSE"},{"id":9,"day":10,"missing":"FALSE"},
{"id":8,"day":1,"missing":"FALSE"},{"id":8,"day":2,"missing":"FALSE"},{"id":8,"day":3,"missing":"FALSE"},{"id":8,"day":4,"missing":"FALSE"},{"id":8,"day":5,"missing":"TRUE"},{"id":8,"day":6,"missing":"FALSE"},{"id":8,"day":7,"missing":"FALSE"},{"id":8,"day":8,"missing":"FALSE"},{"id":8,"day":9,"missing":"FALSE"},{"id":8,"day":10,"missing":"FALSE"},
{"id":7,"day":1,"missing":"FALSE"},{"id":7,"day":2,"missing":"FALSE"},{"id":7,"day":3,"missing":"FALSE"},{"id":7,"day":4,"missing":"FALSE"},{"id":7,"day":5,"missing":"FALSE"},{"id":7,"day":6,"missing":"FALSE"},{"id":7,"day":7,"missing":"FALSE"},{"id":7,"day":8,"missing":"FALSE"},{"id":7,"day":9,"missing":"FALSE"},{"id":7,"day":10,"missing":"FALSE"},
{"id":6,"day":1,"missing":"FALSE"},{"id":6,"day":2,"missing":"FALSE"},{"id":6,"day":3,"missing":"FALSE"},{"id":6,"day":4,"missing":"FALSE"},{"id":6,"day":5,"missing":"FALSE"},{"id":6,"day":6,"missing":"FALSE"},{"id":6,"day":7,"missing":"FALSE"},{"id":6,"day":8,"missing":"FALSE"},{"id":6,"day":9,"missing":"FALSE"},{"id":6,"day":10,"missing":"FALSE"},
{"id":5,"day":1,"missing":"FALSE"},{"id":5,"day":2,"missing":"FALSE"},{"id":5,"day":3,"missing":"FALSE"},{"id":5,"day":4,"missing":"FALSE"},{"id":5,"day":5,"missing":"FALSE"},{"id":5,"day":6,"missing":"FALSE"},{"id":5,"day":7,"missing":"TRUE"},{"id":5,"day":8,"missing":"FALSE"},{"id":5,"day":9,"missing":"FALSE"},{"id":5,"day":10,"missing":"FALSE"},
{"id":4,"day":1,"missing":"FALSE"},{"id":4,"day":2,"missing":"FALSE"},{"id":4,"day":3,"missing":"FALSE"},{"id":4,"day":4,"missing":"FALSE"},{"id":4,"day":5,"missing":"FALSE"},{"id":4,"day":6,"missing":"FALSE"},{"id":4,"day":7,"missing":"FALSE"},{"id":4,"day":8,"missing":"FALSE"},{"id":4,"day":9,"missing":"FALSE"},{"id":4,"day":10,"missing":"FALSE"},
{"id":3,"day":1,"missing":"FALSE"},{"id":3,"day":2,"missing":"FALSE"},{"id":3,"day":3,"missing":"FALSE"},{"id":3,"day":4,"missing":"FALSE"},{"id":3,"day":5,"missing":"FALSE"},{"id":3,"day":6,"missing":"FALSE"},{"id":3,"day":7,"missing":"FALSE"},{"id":3,"day":8,"missing":"FALSE"},{"id":3,"day":9,"missing":"FALSE"},{"id":3,"day":10,"missing":"FALSE"},
{"id":2,"day":1,"missing":"FALSE"},{"id":2,"day":2,"missing":"FALSE"},{"id":2,"day":3,"missing":"TRUE"},{"id":2,"day":4,"missing":"TRUE"},{"id":2,"day":5,"missing":"FALSE"},{"id":2,"day":6,"missing":"FALSE"},{"id":2,"day":7,"missing":"FALSE"},{"id":2,"day":8,"missing":"FALSE"},{"id":2,"day":9,"missing":"FALSE"},{"id":2,"day":10,"missing":"FALSE"},
{"id":1,"day":1,"missing":"FALSE"},{"id":1,"day":2,"missing":"FALSE"},{"id":1,"day":3,"missing":"FALSE"},{"id":1,"day":4,"missing":"FALSE"},{"id":1,"day":5,"missing":"FALSE"},{"id":1,"day":6,"missing":"FALSE"},{"id":1,"day":7,"missing":"FALSE"},{"id":1,"day":8,"missing":"FALSE"},{"id":1,"day":9,"missing":"FALSE"},{"id":1,"day":10,"missing":"FALSE"}
 ]},
 "mark":{"type":"rect","width":54.3,"height":8.2},
 "encoding":{
  "x":{"field":"day","type":"quantitative","title":"Day of Study",
   "scale":{"domain":[0,11],"nice":false,"zero":false},
   "axis":{"values":[0,1.25,2.5,3.75,5,6.25,7.5,8.75,10],
    "labelExpr":"datum.value % 2.5 === 0 ? format(datum.value, '.1f') : ''",
    "gridWidth":{"condition":{"test":"datum.value % 2.5 === 0","value":2},"value":1},
    "tickOpacity":{"condition":{"test":"datum.value % 2.5 === 0","value":1},"value":0},
    "labelPadding":3,"titlePadding":6}},
  "y":{"field":"id","type":"quantitative","title":"Participant ID",
   "scale":{"domain":[-4.35,102.35],"nice":false,"zero":false},
   "axis":{"values":[0,12.5,25,37.5,50,62.5,75,87.5,100],
    "labelExpr":"datum.value % 25 === 0 ? format(datum.value, 'd') : ''",
    "gridWidth":{"condition":{"test":"datum.value % 25 === 0","value":2},"value":1},
    "tickOpacity":{"condition":{"test":"datum.value % 25 === 0","value":1},"value":0},
    "labelPadding":3,"titlePadding":10}},
  "color":{"field":"missing","type":"nominal",
   "scale":{"domain":["FALSE","TRUE"],"range":["#F25F5A","#19B2B8"]},
   "legend":{"title":"Missing","orient":"none","legendX":624,"legendY":328,
    "titleFont":"Liberation Sans","titleFontSize":25,"titleFontWeight":"normal","titleColor":"black","titlePadding":11,
    "labelFont":"Liberation Sans","labelFontSize":20,"labelColor":"black","labelOffset":20,
    "symbolType":"square","symbolSize":1681,"symbolStrokeWidth":0,"symbolOpacity":1,"rowPadding":0}}
 }
},
{
 "data":{"values":[{"id":84.5,"day":12.13},{"id":16,"day":12.13}]},
 "mark":{"type":"point","shape":"M -1 0 L -0.135 -0.414 L -0.135 -0.144 L 1 -0.144 L 1 0.144 L -0.135 0.144 L -0.135 0.414 Z","size":12321,"filled":true,"color":"#666666","opacity":1,"strokeWidth":0},
 "encoding":{
  "x":{"field":"day","type":"quantitative"},
  "y":{"field":"id","type":"quantitative"}
 }
}
]
}
